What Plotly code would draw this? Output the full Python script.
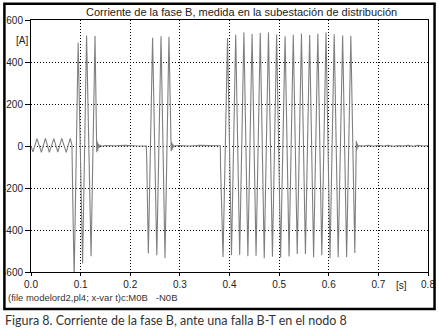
import numpy as np
import plotly.graph_objects as go

# ---- data (time in s, current in A; extrema points) ----
prefault_t = [0.000, 0.004, 0.012, 0.021, 0.029, 0.037, 0.046, 0.054, 0.062, 0.071, 0.079, 0.0825]
prefault_i = [0, -28, 35, -30, 36, -30, 35, -29, 36, -30, 36, 5]

burst1_t = [0.0845, 0.087, 0.095, 0.104, 0.112, 0.121, 0.129, 0.1325, 0.1335, 0.1345, 0.1355, 0.137, 0.139, 0.142]
burst1_i = [-300, -625, 492, -560, 526, -525, 524, -30, 22, -22, 12, -8, 4, -1]

flat1_t = [0.150, 0.170, 0.190, 0.210, 0.225, 0.2325]
flat1_i = [2, 1, 3, 1, 2, 0]

burst2_t = [0.2335, 0.2365, 0.245, 0.2535, 0.262, 0.270, 0.278, 0.2825, 0.2835, 0.2845, 0.2855, 0.287, 0.289]
burst2_i = [-100, -512, 515, -520, 522, -534, 520, -25, 18, -18, 10, -5, 1]

flat2_t = [0.300, 0.320, 0.340, 0.360, 0.375, 0.3815]
flat2_i = [2, 0, 3, 1, 3, 1]

burst3_t = [0.382, 0.387, 0.396, 0.404, 0.4125, 0.4205, 0.429, 0.437, 0.4455, 0.4535, 0.462,
            0.470, 0.4785, 0.4865, 0.495, 0.503, 0.512, 0.520, 0.5285, 0.5365, 0.545, 0.553,
            0.5615, 0.5695, 0.578, 0.586, 0.5945, 0.6025, 0.611, 0.619, 0.628, 0.636, 0.6445,
            0.6525, 0.6555, 0.6565, 0.6575, 0.659, 0.661]
burst3_i = [-100, -528, 514, -520, 530, -519, 540, -525, 533, -522, 538,
            -535, 540, -527, 531, -531, 522, -526, 530, -514, 536, -514,
            528, -530, 535, -520, 540, -535, 532, -530, 526, -530, 524,
            -510, 25, -20, 12, -6, 2]

flat3_t = [0.670, 0.680, 0.690, 0.700, 0.710, 0.720, 0.730, 0.740, 0.750, 0.760, 0.770, 0.780, 0.790, 0.800]
flat3_i = [0, 3, -1, 3, 0, 3, -1, 2, 0, 3, -1, 3, 0, 2]

x_tickvals = [0.0, 0.1, 0.2, 0.3, 0.4, 0.5, 0.6, 0.7, 0.8]
x_ticktext = ["0.0", "0.1", "0.2", "0.3", "0.4", "0.5", "0.6", "0.7", "0.8"]
y_tickvals = [-600, -400, -200, 0, 200, 400, 600]
y_ticktext = ["-600", "-400", "-200", "0", "200", "400", "600"]

title_text = "Corriente de la fase B, medida en la subestación de distribución"
footer_text = "(file modelord2,pl4; x-var t)c:M0B   -N0B"
caption_text = "Figura 8. Corriente de la fase B, ante una falla B-T en el nodo 8"

t_all = prefault_t + burst1_t + flat1_t + burst2_t + flat2_t + burst3_t + flat3_t
i_all = prefault_i + burst1_i + flat1_i + burst2_i + flat2_i + burst3_i + flat3_i

fig = go.Figure()
fig.add_trace(go.Scatter(x=t_all, y=i_all, mode="lines",
                         line=dict(color="#7f7f7f", width=1.1), hoverinfo="skip"))

axis_font = dict(family="Liberation Sans, Arial, sans-serif", size=10, color="#222")
fig.update_layout(
    template="none",
    width=439, height=332,
    margin=dict(l=31, r=11, t=20, b=60, autoexpand=False),
    paper_bgcolor="white", plot_bgcolor="white",
    showlegend=False,
    xaxis=dict(range=[0, 0.8], tickvals=x_tickvals, ticktext=x_ticktext,
               showgrid=True, gridcolor="black", griddash="1px,2px", gridwidth=1,
               showline=True, linecolor="black", linewidth=1, mirror=True,
               ticks="outside", ticklen=3, tickcolor="black", tickfont=axis_font,
               zeroline=False, fixedrange=True, automargin=False),
    yaxis=dict(range=[-600, 600], tickvals=y_tickvals, ticktext=y_ticktext,
               showgrid=True, gridcolor="black", griddash="1px,2px", gridwidth=1,
               showline=True, linecolor="black", linewidth=1, mirror=True,
               ticks="outside", ticklen=5, tickcolor="black", tickfont=axis_font,
               zeroline=False, fixedrange=True, automargin=False),
    shapes=[dict(type="rect", xref="paper", yref="paper",
                 x0=-0.067, x1=1.0165, y0=-0.147, y1=1.064,
                 line=dict(color="black", width=2.5), fillcolor="rgba(0,0,0,0)")],
    annotations=[
        dict(text=title_text, xref="paper", yref="paper", x=0.529, y=1.032,
             xanchor="center", yanchor="middle", showarrow=False,
             font=dict(family="Liberation Sans, Arial, sans-serif", size=11, color="#222")),
        dict(text="[A]", xref="paper", yref="paper", x=-0.002, y=0.92,
             xanchor="right", yanchor="middle", showarrow=False, font=axis_font),
        dict(text="[s]", xref="paper", yref="paper", x=0.934, y=-0.052,
             xanchor="center", yanchor="middle", showarrow=False, font=axis_font),
        dict(text=footer_text, xref="paper", yref="paper", x=-0.063, y=-0.10,
             xanchor="left", yanchor="middle", showarrow=False,
             font=dict(family="Liberation Sans, Arial, sans-serif", size=9.5, color="#333")),
        dict(text=caption_text, xref="paper", yref="paper", x=-0.071, y=-0.194,
             xanchor="left", yanchor="middle", showarrow=False,
             font=dict(family="Lato, sans-serif", size=12.5, color="#333")),
    ],
)

fig.write_html("out.html", config={"displayModeBar": False, "staticPlot": True},
               post_script="document.body.style.margin='0';document.body.style.padding='0';")
